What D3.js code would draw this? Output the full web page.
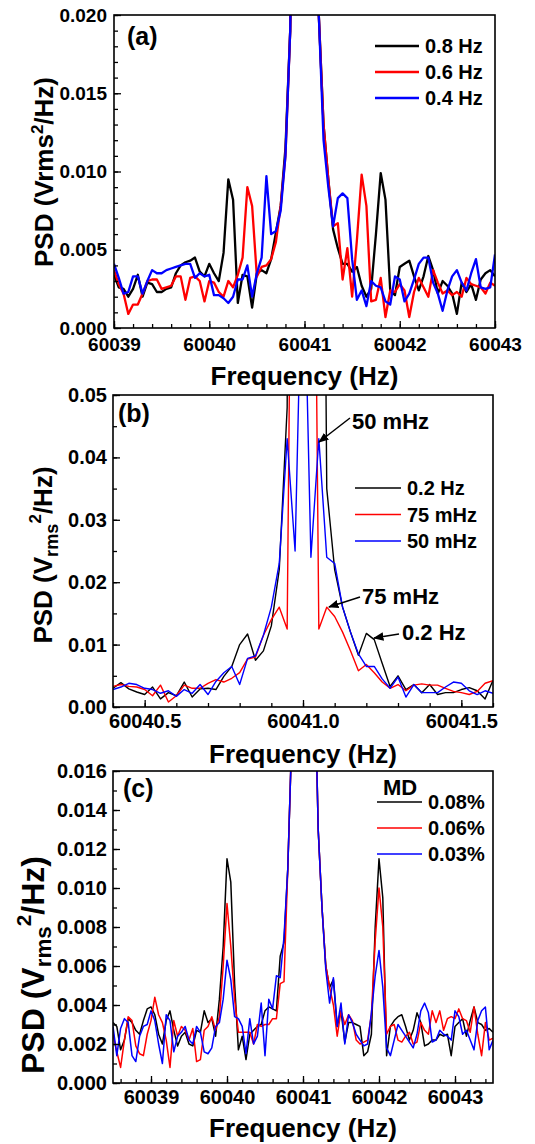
<!DOCTYPE html>
<html>
<head>
<meta charset="utf-8">
<script src="https://cdn.jsdelivr.net/npm/d3@7"></script>
<style>
  body { margin: 0; background: #fff; }
  svg text { font-family: "Liberation Sans", Arial, sans-serif; font-weight: bold; fill: #000; }
</style>
</head>
<body>
<svg id="chart" width="535" height="1144"></svg>
<script>
// PSD values are in units of 1e-3 Vrms^2/Hz.
// Points far above the axis top are carrier samples (clipped).

// (a) grid: 60039.00 + 0.05*i
const freqStartA = 60039, freqStepA = 0.05;
const psdA_08 = [3.4,2.6,2.5,2.0,2.5,3.4,2.0,2.9,2.8,2.3, 2.3,2.5,2.6,3.5,4.0,4.2,4.3,4.5,3.6,3.3,
  4.1,3.5,3.0,4.8,9.5,8.2,1.6,3.4,3.3,1.3, 3.5,3.7,3.5,4.4,6.1,7.8,11.5,19,40,100,
  300,100,40,20,13,9.5,6.3,5.1,4.1,4.1, 3.6,3.9,2.7,2.0,2.5,6.0,9.9,8.2,2.4,2.1,
  3.9,4.1,4.3,3.3,2.4,3.3,4.6,3.7,2.2,3.0, 2.7,2.2,0.9,2.9,2.3,2.8,1.8,3.1,3.5,3.7,3.3];
const psdA_06 = [3.7,2.8,2.2,0.9,1.5,1.5,2.2,3.0,3.1,3.1, 2.5,2.6,2.7,3.3,3.3,1.8,3.2,3.3,3.0,1.7,
  3.0,2.9,2.3,2.0,3.0,2.6,3.4,4.5,9.0,7.8, 3.3,3.9,4.0,4.4,5.5,7.8,11,19,40,100,
  300,100,40,20,13,9.5,6.5,6.7,3.1,5.1, 2.0,5.6,9.8,7.8,1.7,1.8,3.2,0.7,2.4,2.3,
  2.8,2.4,0.7,2.3,3.2,2.6,2.0,3.7,2.9,2.2, 2.4,2.1,2.3,2.0,3.2,2.8,2.7,2.6,2.2,2.9,2.7];
const psdA_04 = [4.1,3.2,2.2,2.3,3.3,3.3,2.2,3.0,3.7,3.5, 3.5,3.7,3.8,3.9,4.0,4.1,4.1,3.2,3.5,3.3,
  3.4,2.1,2.1,1.9,1.6,2.0,3.1,3.1,4.0,2.0, 3.5,4.5,9.7,6.0,6.2,7.5,11,19,40,100,
  300,100,40,20,12,9.0,6.5,8.3,8.6,8.3, 4.4,1.8,2.4,1.4,3.0,2.7,2.6,1.7,1.5,3.3,
  3.1,1.7,2.2,3.1,4.1,4.5,4.5,2.9,2.2,1.1, 2.4,3.3,3.7,2.9,2.4,3.5,4.4,2.6,2.5,2.6,4.7];

// (b) grid: 60040.400 + 0.025*i
const freqStartB = 60040.4, freqStepB = 0.025;
const psdB_200 = [3.0,3.9,2.9,2.4,2.0,3.2,1.3,2.3,1.8,4.0, 1.6,2.9,3.0,2.8,4.9,6.5,10.0,11.7,7.5,9.0,
  13,22,48,300,1000,300,200,35,22,16, 12,8.3,11.8,10.8,7.0,3.3,5.0,2.8,3.6,2.3,
  3.6,2.0,2.3,2.3,2.8,3.1,2.6,1.3,4.3];
const psdB_75 = [3.3,3.6,3.3,3.2,2.8,1.8,3.5,0.8,1.8,3.5, 3.0,3.0,3.8,4.4,4.0,4.6,5.5,7.7,8.0,11.5,
  14,16,12.5,150,1000,150,12.5,16,14.5,12, 9,5.8,6.8,5.5,4.0,3.0,3.6,2.6,3.5,3.7,
  3.5,3.5,3.0,2.5,2.3,2.0,2.5,3.8,4.2];
const psdB_50 = [2.8,3.2,3.8,3.6,3.0,2.8,2.2,2.6,1.7,2.8, 2.2,3.6,2.0,4.1,5.5,6.5,3.6,7.8,8.2,11.5,
  16,23,43,25,80,24,43,24,23,16, 12,8.5,6.5,6.5,4.5,3.0,4.8,1.6,3.6,2.3,
  2.3,2.3,3.2,4.0,3.8,2.6,2.0,2.6,2.2];

// (c) grid: 60038.50 + 0.05*i
const freqStartC = 60038.5, freqStepC = 0.05;
const psdC_008 = [3.1,2.9,1.7,2.2,3.3,3.1,2.7,2.5,3.2,3.8, 3.9,3.5,2.5,2.0,3.2,3.7,2.7,1.9,2.4,2.6,
  2.0,1.9,2.7,2.6,3.7,3.1,3.3,2.4,4.3,7.0, 11.5,10.3,5.1,1.7,2.4,1.2,2.5,2.7,2.9,3.0,
  3.7,3.9,3.8,3.7,6.5,7.2,11,17.5,50,150, 500,150,50,22,13,9.0,6.0,4.9,5.3,2.9,
  3.7,2.1,3.1,3.1,3.0,2.9,1.4,1.6,2.5,8.0, 11.5,9.5,1.4,2.9,3.2,3.4,3.5,2.9,2.2,2.7,
  3.6,3.1,1.9,2.0,2.2,2.2,2.5,2.4,2.5,1.4, 2.9,3.1,3.3,2.4,3.2,3.9,3.1,3.0,2.7,2.8,2.6];
const psdC_006 = [2.5,1.6,0.8,2.2,3.4,3.2,1.9,1.5,1.4,2.5, 3.2,4.4,3.5,3.1,2.2,0.8,3.2,2.4,2.9,2.7,
  2.2,2.8,1.1,1.2,2.7,2.9,3.4,2.7,3.4,6.0, 9.2,7.0,4.3,2.6,2.6,2.6,2.6,2.0,3.0,2.9,
  3.0,3.0,3.3,3.3,5.1,5.2,11,17.5,50,150, 500,150,50,22,13,9.0,6.0,4.9,4.0,2.4,
  3.7,3.0,3.5,3.2,2.2,2.0,2.1,2.2,3.5,7.3, 10.0,8.0,2.5,2.9,3.0,2.2,2.1,2.4,2.6,2.0,
  2.1,3.1,2.7,2.5,3.7,3.1,3.7,2.7,3.3,3.4, 3.3,3.8,3.3,3.2,2.6,3.9,2.5,1.4,3.1,2.2,2.3];
const psdC_003 = [2.9,1.4,2.8,3.3,3.1,1.4,1.1,2.4,2.9,3.0, 3.7,3.2,2.0,1.0,3.5,3.2,1.6,2.4,2.6,2.9,
  2.2,2.0,2.9,2.6,1.6,1.5,1.8,2.9,3.1,4.3, 6.3,5.3,3.4,3.3,2.9,1.5,3.3,2.0,2.4,4.1,
  1.4,4.3,3.8,5.5,5.4,7.5,11,17.5,50,150, 500,150,50,22,13,9.0,5.8,4.1,5.4,2.9,
  4.1,2.0,3.5,3.1,2.5,2.2,1.9,2.0,3.6,5.5, 6.8,4.9,1.8,1.4,2.2,3.0,2.7,2.4,2.1,1.8,
  2.5,3.7,4.1,3.6,2.1,2.2,2.7,2.5,2.4,2.2, 3.7,3.4,2.5,2.7,2.2,1.7,3.2,3.7,3.9,1.7,2.2];

const seriesColors = ["#000000", "#ff0000", "#0000ff"];
const legendA = ["0.8 Hz", "0.6 Hz", "0.4 Hz"];
const legendB = ["0.2 Hz", "75 mHz", "50 mHz"];
const legendC = ["0.08%", "0.06%", "0.03%"];

const svg = d3.select("#chart");

function ticksFrom(start, stop, step) {
  const n = Math.round((stop - start) / step);
  return d3.range(n + 1).map(k => +(start + k * step).toFixed(4));
}

function drawPanel(p) {
  const x = d3.scaleLinear().domain(p.xDomain).range([p.l, p.r]);
  const y = d3.scaleLinear().domain(p.yDomain).range([p.b, p.t]);
  const g = svg.append("g");

  g.append("clipPath").attr("id", "clip-" + p.id)
    .append("rect").attr("x", p.l).attr("y", p.t).attr("width", p.r - p.l).attr("height", p.b - p.t);

  const line = d3.line()
    .x((d, i) => x(p.start + i * p.step))
    .y(d => y(d * 1e-3));

  g.append("g").attr("clip-path", `url(#clip-${p.id})`)
    .selectAll("path")
    .data(p.series)
    .join("path")
      .attr("d", line)
      .attr("fill", "none")
      .attr("stroke", (d, i) => seriesColors[i])
      .attr("stroke-width", p.lw)
      .attr("stroke-linejoin", "round");

  // minor ticks (inward)
  g.append("g").attr("transform", `translate(0,${p.b})`)
    .call(d3.axisBottom(x).tickValues(p.xMinor).tickSize(-4).tickFormat(""))
    .call(a => a.select(".domain").remove());
  g.append("g").attr("transform", `translate(${p.l},0)`)
    .call(d3.axisLeft(y).tickValues(p.yMinor).tickSize(-4).tickFormat(""))
    .call(a => a.select(".domain").remove());

  // major ticks + labels
  g.append("g").attr("transform", `translate(0,${p.b})`)
    .call(d3.axisBottom(x).tickValues(p.xMajor).tickSize(-7).tickPadding(p.xPad).tickFormat(d3.format(p.xFmt)))
    .call(a => a.select(".domain").remove())
    .call(a => a.selectAll("text").style("font-size", p.tickFont + "px").attr("font-family", null).attr("fill", "#000"));
  g.append("g").attr("transform", `translate(${p.l},0)`)
    .call(d3.axisLeft(y).tickValues(p.yMajor).tickSize(-7).tickPadding(p.yPad).tickFormat(d3.format(p.yFmt)))
    .call(a => a.select(".domain").remove())
    .call(a => a.selectAll("text").style("font-size", p.tickFont + "px").attr("font-family", null).attr("fill", "#000"));

  g.selectAll(".tick line").attr("stroke", "#000").attr("stroke-width", 1.3);

  g.append("rect")
    .attr("x", p.l).attr("y", p.t).attr("width", p.r - p.l).attr("height", p.b - p.t)
    .attr("fill", "none").attr("stroke", "#000").attr("stroke-width", 1.6);

  // axis titles
  g.append("text")
    .attr("x", (p.l + p.r) / 2).attr("y", p.xTitleY)
    .attr("text-anchor", "middle").style("font-size", "26px")
    .text("Frequency (Hz)");

  const fs = p.yTitleFont;
  const yt = g.append("text")
    .attr("transform", `translate(${p.yTitleX},${p.yTitleY}) rotate(-90)`)
    .attr("text-anchor", "middle").style("font-size", fs + "px");
  if (p.subRms) {
    yt.append("tspan").text("PSD (V");
    yt.append("tspan").attr("dy", fs * 0.23).style("font-size", fs * 0.7 + "px").text("rms");
    yt.append("tspan").attr("dy", -fs * 0.65).style("font-size", fs * 0.65 + "px").text("2");
    yt.append("tspan").attr("dy", fs * 0.42).text("/Hz)");
  } else {
    yt.append("tspan").text("PSD (Vrms");
    yt.append("tspan").attr("dy", -fs * 0.38).style("font-size", fs * 0.65 + "px").text("2");
    yt.append("tspan").attr("dy", fs * 0.38).text("/Hz)");
  }

  g.append("text").attr("x", p.tagX).attr("y", p.tagY).style("font-size", "25px").text(`(${p.id})`);

  // legend
  const lg = g.append("g");
  if (p.legendTitle) {
    lg.append("text").attr("x", p.legTitleX).attr("y", p.legTitleY)
      .style("font-size", "22px").text(p.legendTitle);
  }
  p.legend.forEach((lbl, i) => {
    const cy = p.legY + i * p.legDy;
    lg.append("line")
      .attr("x1", p.legX0).attr("x2", p.legX1).attr("y1", cy).attr("y2", cy)
      .attr("stroke", seriesColors[i]).attr("stroke-width", p.lw);
    lg.append("text").attr("x", p.legX1 + 6).attr("y", cy + 7)
      .style("font-size", "20px").text(lbl);
  });
}

drawPanel({
  id: "a", l: 114, r: 495, t: 15, b: 328,
  xDomain: [60039, 60043], yDomain: [0, 0.02],
  start: freqStartA, step: freqStepA, series: [psdA_08, psdA_06, psdA_04], lw: 2.3,
  xMajor: ticksFrom(60039, 60043, 1), xMinor: ticksFrom(60039, 60043, 0.2), xFmt: "d",
  yMajor: ticksFrom(0, 0.02, 0.005), yMinor: ticksFrom(0, 0.02, 0.001), yFmt: ".3f",
  tickFont: 19, yPad: 7, xPad: 10,
  xTitleY: 385, yTitleX: 53, yTitleY: 172, yTitleFont: 26, subRms: false,
  tagX: 127, tagY: 45,
  legend: legendA, legX0: 375, legX1: 419, legY: 46, legDy: 26
});

drawPanel({
  id: "b", l: 113, r: 493, t: 395, b: 707,
  xDomain: [60040.4, 60041.6], yDomain: [0, 0.05],
  start: freqStartB, step: freqStepB, series: [psdB_200, psdB_75, psdB_50], lw: 1.4,
  xMajor: [60040.5, 60041.0, 60041.5], xMinor: ticksFrom(60040.4, 60041.6, 0.1), xFmt: ".1f",
  yMajor: ticksFrom(0, 0.05, 0.01), yMinor: ticksFrom(0, 0.05, 0.005), yFmt: ".2f",
  tickFont: 20, yPad: 6, xPad: 7,
  xTitleY: 763, yTitleX: 52, yTitleY: 555, yTitleFont: 26, subRms: true,
  tagX: 118, tagY: 422,
  legend: legendB, legX0: 355, legX1: 401, legY: 488, legDy: 26.5
});

drawPanel({
  id: "c", l: 113, r: 493, t: 771, b: 1083,
  xDomain: [60038.5, 60043.5], yDomain: [0, 0.016],
  start: freqStartC, step: freqStepC, series: [psdC_008, psdC_006, psdC_003], lw: 1.5,
  xMajor: ticksFrom(60039, 60043, 1), xMinor: ticksFrom(60038.6, 60043.4, 0.2), xFmt: "d",
  yMajor: ticksFrom(0, 0.016, 0.002), yMinor: ticksFrom(0, 0.016, 0.001), yFmt: ".3f",
  tickFont: 20, yPad: 6, xPad: 7,
  xTitleY: 1137, yTitleX: 44, yTitleY: 965, yTitleFont: 32, subRms: true,
  tagX: 123, tagY: 797,
  legend: legendC, legendTitle: "MD", legTitleX: 383, legTitleY: 795,
  legX0: 377, legX1: 422, legY: 802, legDy: 26
});

// (b) annotations with arrows
const annotB = [
  { label: "50 mHz", tx: 352, ty: 429, from: [350, 418], to: [319, 442] },
  { label: "75 mHz", tx: 362, ty: 604, from: [360, 597], to: [329, 607] },
  { label: "0.2 Hz", tx: 402, ty: 640, from: [399, 634], to: [374, 638] }
];
svg.append("defs").append("marker")
  .attr("id", "arrow").attr("viewBox", "0 0 10 10").attr("refX", 9).attr("refY", 5)
  .attr("markerWidth", 7).attr("markerHeight", 7).attr("orient", "auto")
  .append("path").attr("d", "M0,1 L10,5 L0,9 Z").attr("fill", "#000");
const ag = svg.append("g");
annotB.forEach(a => {
  ag.append("line")
    .attr("x1", a.from[0]).attr("y1", a.from[1]).attr("x2", a.to[0]).attr("y2", a.to[1])
    .attr("stroke", "#000").attr("stroke-width", 1.5).attr("marker-end", "url(#arrow)");
  ag.append("text").attr("x", a.tx).attr("y", a.ty).style("font-size", "22px").text(a.label);
});
</script>
</body>
</html>
